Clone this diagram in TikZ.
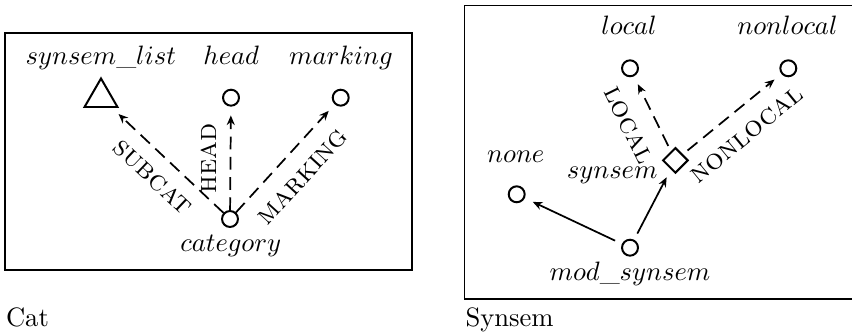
\documentclass[tikz,border=0pt]{standalone}
\usetikzlibrary{arrows.meta,shapes.geometric}
\tikzset{
  cnode/.style={circle,draw,line width=0.75pt,minimum size=6.0pt,inner sep=0pt},
  tnode/.style={regular polygon,regular polygon sides=3,draw,line width=0.75pt,minimum size=14.3pt,inner sep=0pt},
  dnode/.style={diamond,draw,line width=0.75pt,minimum size=9.6pt,inner sep=0pt},
  lbl/.style={anchor=base,inner sep=0pt},
  feat/.style={inner sep=0pt,font=\fontsize{10.95}{13}\selectfont\scshape},
  capt/.style={anchor=base west,inner sep=0pt},
  frame/.style={line width=0.45pt},
  arr/.style={-{Stealth[length=3.6pt,width=3pt]},line width=0.65pt,shorten >=3.3pt},
  darr/.style={arr,dash pattern=on 4.8pt off 2.8pt},
}
\begin{document}
\begin{tikzpicture}[x=0.376pt,y=-0.376pt]
\useasboundingbox (0,0) rectangle (852,333);
% frames
\draw[frame] (5,33) rectangle (412,270);
\draw[frame] (464.5,5.5) rectangle (870,299);
% left: Cat
\node[tnode] (slist) at (101,97.5) {};
\node[cnode] (head) at (231,97.7) {};
\node[cnode] (marking) at (340.7,97.7) {};
\node[cnode] (cat) at (230,219) {};
\node[lbl] (tslist) at (100.8,65) {$synsem\_list$};
\node[lbl] (thead) at (231.3,65) {$head$};
\node[lbl] (tmarking) at (341,65) {$marking$};
\node[lbl] (tcat) at (230.8,252) {$category$};
\draw[darr] (cat) -- (slist);
\draw[darr] (cat) -- (head);
\draw[darr] (cat) -- (marking);
\node[feat,rotate=-43.4] (fsubcat) at (152.5,177.5) {subcat};
\node[feat,rotate=90] (fhead) at (209,158.5) {head};
\node[feat,rotate=47.6] (fmarking) at (303,177) {marking};
\node[capt] (ccat) at (5.5,326.5) {Cat};
% right: Synsem
\node[cnode] (local) at (630,68.3) {};
\node[cnode] (nonlocal) at (788.3,68.3) {};
\node[dnode] (synsem) at (675.4,160.4) {};
\node[cnode] (none) at (516.7,194.3) {};
\node[cnode] (mod) at (630,247.7) {};
\node[lbl] (tlocal) at (629,35) {$local$};
\node[lbl] (tnonlocal) at (787.5,35) {$nonlocal$};
\node[lbl] (tnone) at (515.8,162.7) {$none$};
\node[lbl] (tsynsem) at (612.2,178.3) {$synsem$};
\node[lbl] (tmod) at (630,280.7) {$mod\_synsem$};
\draw[darr,shorten <=2.2pt] (synsem) -- (local);
\draw[darr,shorten <=2.2pt] (synsem) -- (nonlocal);
\draw[arr,shorten <=2.8pt] (mod) -- (none);
\draw[arr,shorten <=2.6pt] (mod) -- (synsem);
\node[feat,rotate=-63.7] (flocal) at (628.3,125.3) {local};
\node[feat,rotate=39.3] (fnonlocal) at (746.7,135) {nonlocal};
\node[capt] (csynsem) at (465,326.7) {Synsem};
\end{tikzpicture}
\end{document}
